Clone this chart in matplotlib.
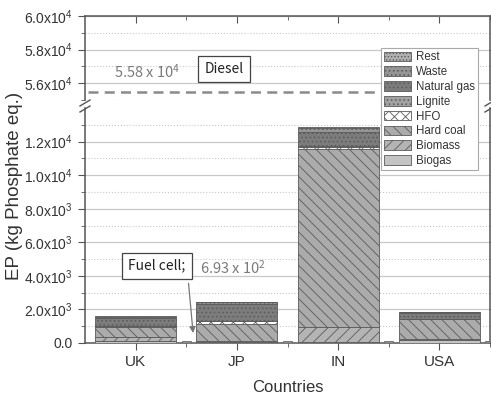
import matplotlib
matplotlib.use("Agg")
import matplotlib.pyplot as plt
from matplotlib.patches import Patch
import numpy as np

plt.rcParams['font.family'] = ['Liberation Sans', 'DejaVu Sans']
plt.rcParams['mathtext.fontset'] = 'custom'
plt.rcParams['mathtext.rm'] = 'Liberation Sans'
plt.rcParams['mathtext.default'] = 'regular'
plt.rcParams['hatch.linewidth'] = 0.6

countries = ['UK', 'JP', 'IN', 'USA']
sources = ['Biogas', 'Biomass', 'Hard coal', 'HFO', 'Lignite', 'Natural gas', 'Waste', 'Rest']
ep = {
    'Biogas':      [120, 40, 60, 150],
    'Biomass':     [240, 80, 900, 70],
    'Hard coal':   [600, 1020, 10600, 1190],
    'HFO':         [20, 150, 140, 10],
    'Lignite':     [30, 40, 60, 20],
    'Natural gas': [470, 1010, 830, 350],
    'Waste':       [70, 80, 200, 50],
    'Rest':        [50, 40, 100, 20],
}
fuel_cell = [90, 90, 90, 90]
diesel = 5.55e4
diesel_label = '5.58 x 10$^4$'
fuel_label = '6.93 x 10$^2$'

styles = {
    'Biogas':      dict(facecolor='#c4c4c4', hatch=None),
    'Biomass':     dict(facecolor='#b4b4b4', hatch='///'),
    'Hard coal':   dict(facecolor='#ababab', hatch='\\\\\\'),
    'HFO':         dict(facecolor='white', hatch='xxx'),
    'Lignite':     dict(facecolor='#a2a2a2', hatch='....'),
    'Natural gas': dict(facecolor='#7c7c7c', hatch='....'),
    'Waste':       dict(facecolor='#959595', hatch='....'),
    'Rest':        dict(facecolor='#b0b0b0', hatch='.....'),
}
edge = '#5a5a5a'
grid_c = '#c8c8c8'
spine_c = '#555555'
text_c = '#333333'

W, H = 491, 394
fig = plt.figure(figsize=(W / 100, H / 100), dpi=100)
left = 85 / W
width = (490 - 85) / W
ax_lo = fig.add_axes([left, 1 - 343 / H, width, (343 - 108) / H])
ax_hi = fig.add_axes([left, 1 - 100 / H, width, (100 - 16) / H])

x = np.arange(len(countries))
bottom = np.zeros(len(countries))
for s in sources:
    vals = np.array(ep[s], dtype=float)
    ax_lo.bar(x, vals, 0.8, bottom=bottom, edgecolor=edge, linewidth=0.6,
              zorder=3, **styles[s])
    bottom += vals
ax_lo.bar(x + 0.5, fuel_cell, 0.09, color='#8c8c8c', edgecolor=edge,
          linewidth=0.5, zorder=3)

ax_hi.axhline(diesel, xmin=0.007, xmax=0.72, color='#8a8a8a', lw=1.8,
              ls=(0, (4, 2.5)), zorder=3)

for ax in (ax_lo, ax_hi):
    ax.set_xlim(-0.5, 3.5)
    ax.set_xticks(x)
    ax.set_xticks(x + 0.5, minor=True)
    ax.grid(True, which='major', axis='y', color=grid_c, lw=0.9, zorder=0)
    ax.grid(True, which='minor', axis='y', color=grid_c, lw=0.8, ls=':', zorder=0)
    for sp in ax.spines.values():
        sp.set_color(spine_c)
        sp.set_linewidth(1.1)
    ax.tick_params(axis='y', which='both', direction='out', color=spine_c,
                   labelcolor=text_c, labelsize=10, right=True)
    ax.tick_params(axis='y', which='major', length=5)
    ax.tick_params(axis='y', which='minor', length=3)

def fmt(v):
    if v == 0:
        return '0.0'
    e = int(np.floor(np.log10(v)))
    return '%.1fx10$^{%d}$' % (v / 10 ** e, e)

ax_lo.set_ylim(0, 1.4e4)
lo_major = np.arange(0, 1.3e4, 2e3)
ax_lo.set_yticks(lo_major)
ax_lo.set_yticklabels([fmt(v) for v in lo_major])
ax_lo.set_yticks(np.arange(1e3, 1.4e4, 2e3), minor=True)
ax_lo.spines['top'].set_visible(False)
ax_lo.set_xticklabels(countries)
ax_lo.tick_params(axis='x', which='major', direction='out', length=5,
                  color=spine_c, labelsize=11, labelcolor=text_c)
ax_lo.tick_params(axis='x', which='minor', direction='out', length=3,
                  color=spine_c)

ax_hi.set_ylim(5.5e4, 6.0e4)
hi_major = [5.6e4, 5.8e4, 6.0e4]
ax_hi.set_yticks(hi_major)
ax_hi.set_yticklabels([fmt(v) for v in hi_major])
ax_hi.set_yticks([5.5e4, 5.7e4, 5.9e4], minor=True)
ax_hi.spines['bottom'].set_visible(False)
ax_hi.tick_params(axis='x', which='both', bottom=False, labelbottom=False,
                  top=True, direction='in', color=spine_c)
ax_hi.tick_params(axis='x', which='major', length=5)
ax_hi.tick_params(axis='x', which='minor', length=3)

for ax in (ax_lo, ax_hi):
    ax.tick_params(axis='y', which='both', right=True, labelright=False)

# break marks
for xf in (left, left + width):
    for dy in (0, 6):
        yb = 1 - (103 + dy) / H
        fig.add_artist(plt.Line2D([xf - 5 / W, xf + 5 / W], [yb - 3 / H, yb + 3 / H],
                                  color=spine_c, lw=1.0))

ax_lo.set_xlabel('Countries', fontsize=12, color=text_c, labelpad=8)
fig.text(15 / W, 1 - 186 / H, 'EP (kg Phosphate eq.)', rotation=90,
         ha='center', va='center', fontsize=13.5, color=text_c)

ann_font = ['Noto Sans CJK KR', 'DejaVu Sans']
ax_hi.text(-0.216, 56700, diesel_label, fontsize=10.5, color='#7a7a7a',
           va='center', ha='left', family=ann_font)
ax_hi.text(0.87, 56850, 'Diesel', fontsize=10, color='#222222', va='center',
           ha='center', family=ann_font, zorder=5,
           bbox=dict(boxstyle='square,pad=0.45', fc='white', ec='#444444', lw=0.9))
ax_lo.text(0.21, 4600, 'Fuel cell;', fontsize=10, color='#222222', va='center',
           ha='center', family=ann_font, zorder=5,
           bbox=dict(boxstyle='square,pad=0.45', fc='white', ec='#444444', lw=0.9))
ax_lo.text(0.64, 4500, fuel_label, fontsize=10.5, color='#7a7a7a', va='center',
           ha='left', family=ann_font)
ax_lo.annotate('', xy=(0.57, 430), xytext=(0.52, 3720),
               arrowprops=dict(arrowstyle='-|>', color='#777777', lw=0.9,
                               mutation_scale=9), zorder=5)

handles = [Patch(edgecolor=edge, linewidth=0.6, label=s, **styles[s])
           for s in sources[::-1]]
leg = fig.legend(handles=handles, loc='upper right',
                 bbox_to_anchor=(478 / W, 1 - 48 / H), fontsize=8.3,
                 frameon=True, fancybox=False, framealpha=1, edgecolor='#aaaaaa',
                 handlelength=2.3, handleheight=0.9, labelspacing=0.24,
                 handletextpad=0.4, borderpad=0.3, borderaxespad=0)
leg.get_frame().set_linewidth(0.8)
for t in leg.get_texts():
    t.set_color(text_c)

fig.savefig('out.png', dpi=100)
